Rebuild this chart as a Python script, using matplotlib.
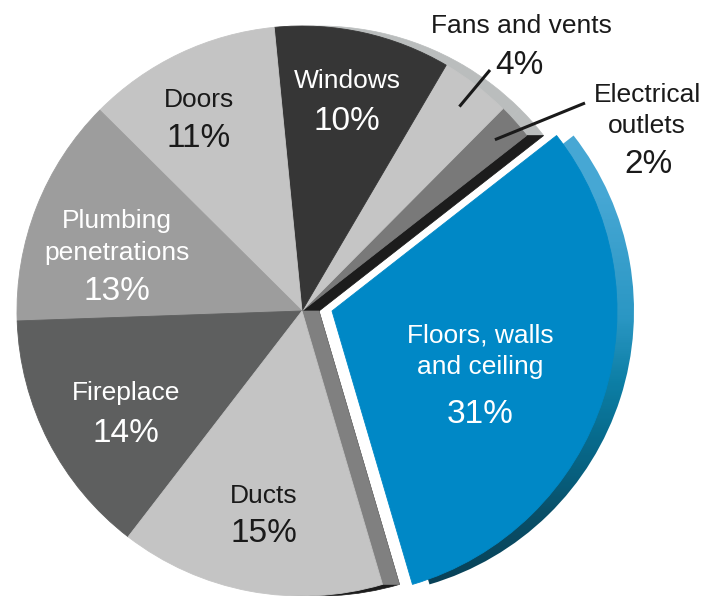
import numpy as np
import matplotlib.pyplot as plt
from matplotlib.patches import Wedge, Polygon
from matplotlib.colors import LinearSegmentedColormap

plt.rcParams['font.family'] = ['Liberation Sans', 'DejaVu Sans']

W, H = 712, 596

# data, counterclockwise starting at the cut next to the blue slice
categories = ['Electrical outlets', 'Fans and vents', 'Windows', 'Doors',
              'Plumbing penetrations', 'Fireplace', 'Ducts', 'Floors, walls and ceiling']
shares = [2, 4, 10, 11, 13, 14, 15, 31]
name_lines = [['Electrical', 'outlets'], ['Fans and vents'], ['Windows'], ['Doors'],
              ['Plumbing', 'penetrations'], ['Fireplace'], ['Ducts'],
              ['Floors, walls', 'and ceiling']]

# styling
face_colors = ['#797979', '#c5c5c5', '#363636', '#c4c4c4', '#9d9d9d', '#5e5f5f', '#c4c4c4', '#0088c6']
rim_colors = ['#babdbd', '#babdbd', '#babdbd', '#babdbd', '#babdbd', '#babdbd', '#1c1c1c', None]
text_colors = ['#1a1a1a', '#1a1a1a', 'white', '#1a1a1a', 'white', 'white', '#1a1a1a', 'white']

# label layout in picture pixels (x centre, baselines of name lines), percent (x, baseline)
name_pos = [(647, [102, 133]), (521, [33]), (347, [88]), (199, [107]),
            (117, [228, 260]), (126, [400]), (264, [503]), (480, [343, 374])]
pct_pos = [(648, 173), (519, 74), (347, 130), (199, 147),
           (117, 300), (126, 442), (264, 542), (480, 423)]
leader_ends = {0: (585, 103), 1: (490, 70)}


def up(y):
    return H - y


cx, cy = 302, up(311)
R = 285
start = 38
depth = 17        # sideways extrusion of the fake 3d
blue_shift = 30

fig = plt.figure(figsize=(W / 100, H / 100), dpi=100)
ax = fig.add_axes([0, 0, 1, 1])
ax.set_xlim(0, W)
ax.set_ylim(0, H)
ax.axis('off')

bounds = start + 3.6 * np.concatenate([[0], np.cumsum(shares)])

for i, (t1, t2) in enumerate(zip(bounds[:-1], bounds[1:])):
    is_blue = i == len(shares) - 1
    ox = cx + (blue_shift if is_blue else 0)

    # side / rim
    if is_blue:
        rim = Wedge((ox + depth, cy), R, t1, t2, facecolor='none', edgecolor='none')
        ax.add_patch(rim)
        grad = LinearSegmentedColormap.from_list('rim', [
            (0.0, '#083f55'), (0.14, '#0a5069'), (0.2, '#075f7e'), (0.28, '#086e91'),
            (0.36, '#0d7fa6'), (0.47, '#2b97c4'), (0.67, '#46a7d4'), (1.0, '#4aaad6')])
        im = ax.imshow(np.linspace(0, 1, 300).reshape(-1, 1), cmap=grad, origin='lower',
                       extent=(ox, ox + R + depth + 5, 0, H), aspect='auto', zorder=1)
        im.set_clip_path(rim)
    else:
        ax.add_patch(Wedge((ox + depth, cy), R, t1, t2, facecolor=rim_colors[i],
                           edgecolor=rim_colors[i], lw=0.5, zorder=1))

    # top face
    ax.add_patch(Wedge((ox, cy), R, t1, t2, facecolor=face_colors[i],
                       edgecolor=face_colors[i], lw=0.6, zorder=3))

# radial side faces at the two cut edges of the grey part
for ang, col in [(bounds[0], '#1c1c1c'), (bounds[-2], '#808080')]:
    ux, uy = np.cos(np.radians(ang)), np.sin(np.radians(ang))
    ax.add_patch(Polygon([(cx, cy), (cx + R * ux, cy + R * uy),
                          (cx + R * ux + depth, cy + R * uy), (cx + depth, cy)],
                         closed=True, facecolor=col, edgecolor=col, lw=0.5, zorder=2))

# labels
for i in range(len(shares)):
    x, bases = name_pos[i]
    for line, b in zip(name_lines[i], bases):
        ax.text(x, up(b), line, ha='center', va='baseline', fontsize=19,
                color=text_colors[i], zorder=5)
    px, pb = pct_pos[i]
    ax.text(px, up(pb), f'{shares[i]}%', ha='center', va='baseline', fontsize=24,
            color=text_colors[i], zorder=5)

# leader lines for the two small slices
for i, (lx, ly) in leader_ends.items():
    mid = np.radians((bounds[i] + bounds[i + 1]) / 2)
    ax.plot([lx, cx + 258 * np.cos(mid)], [up(ly), cy + 258 * np.sin(mid)],
            color='#1a1a1a', lw=2.2, solid_capstyle='butt', zorder=6)

fig.savefig('out.png', dpi=100)
